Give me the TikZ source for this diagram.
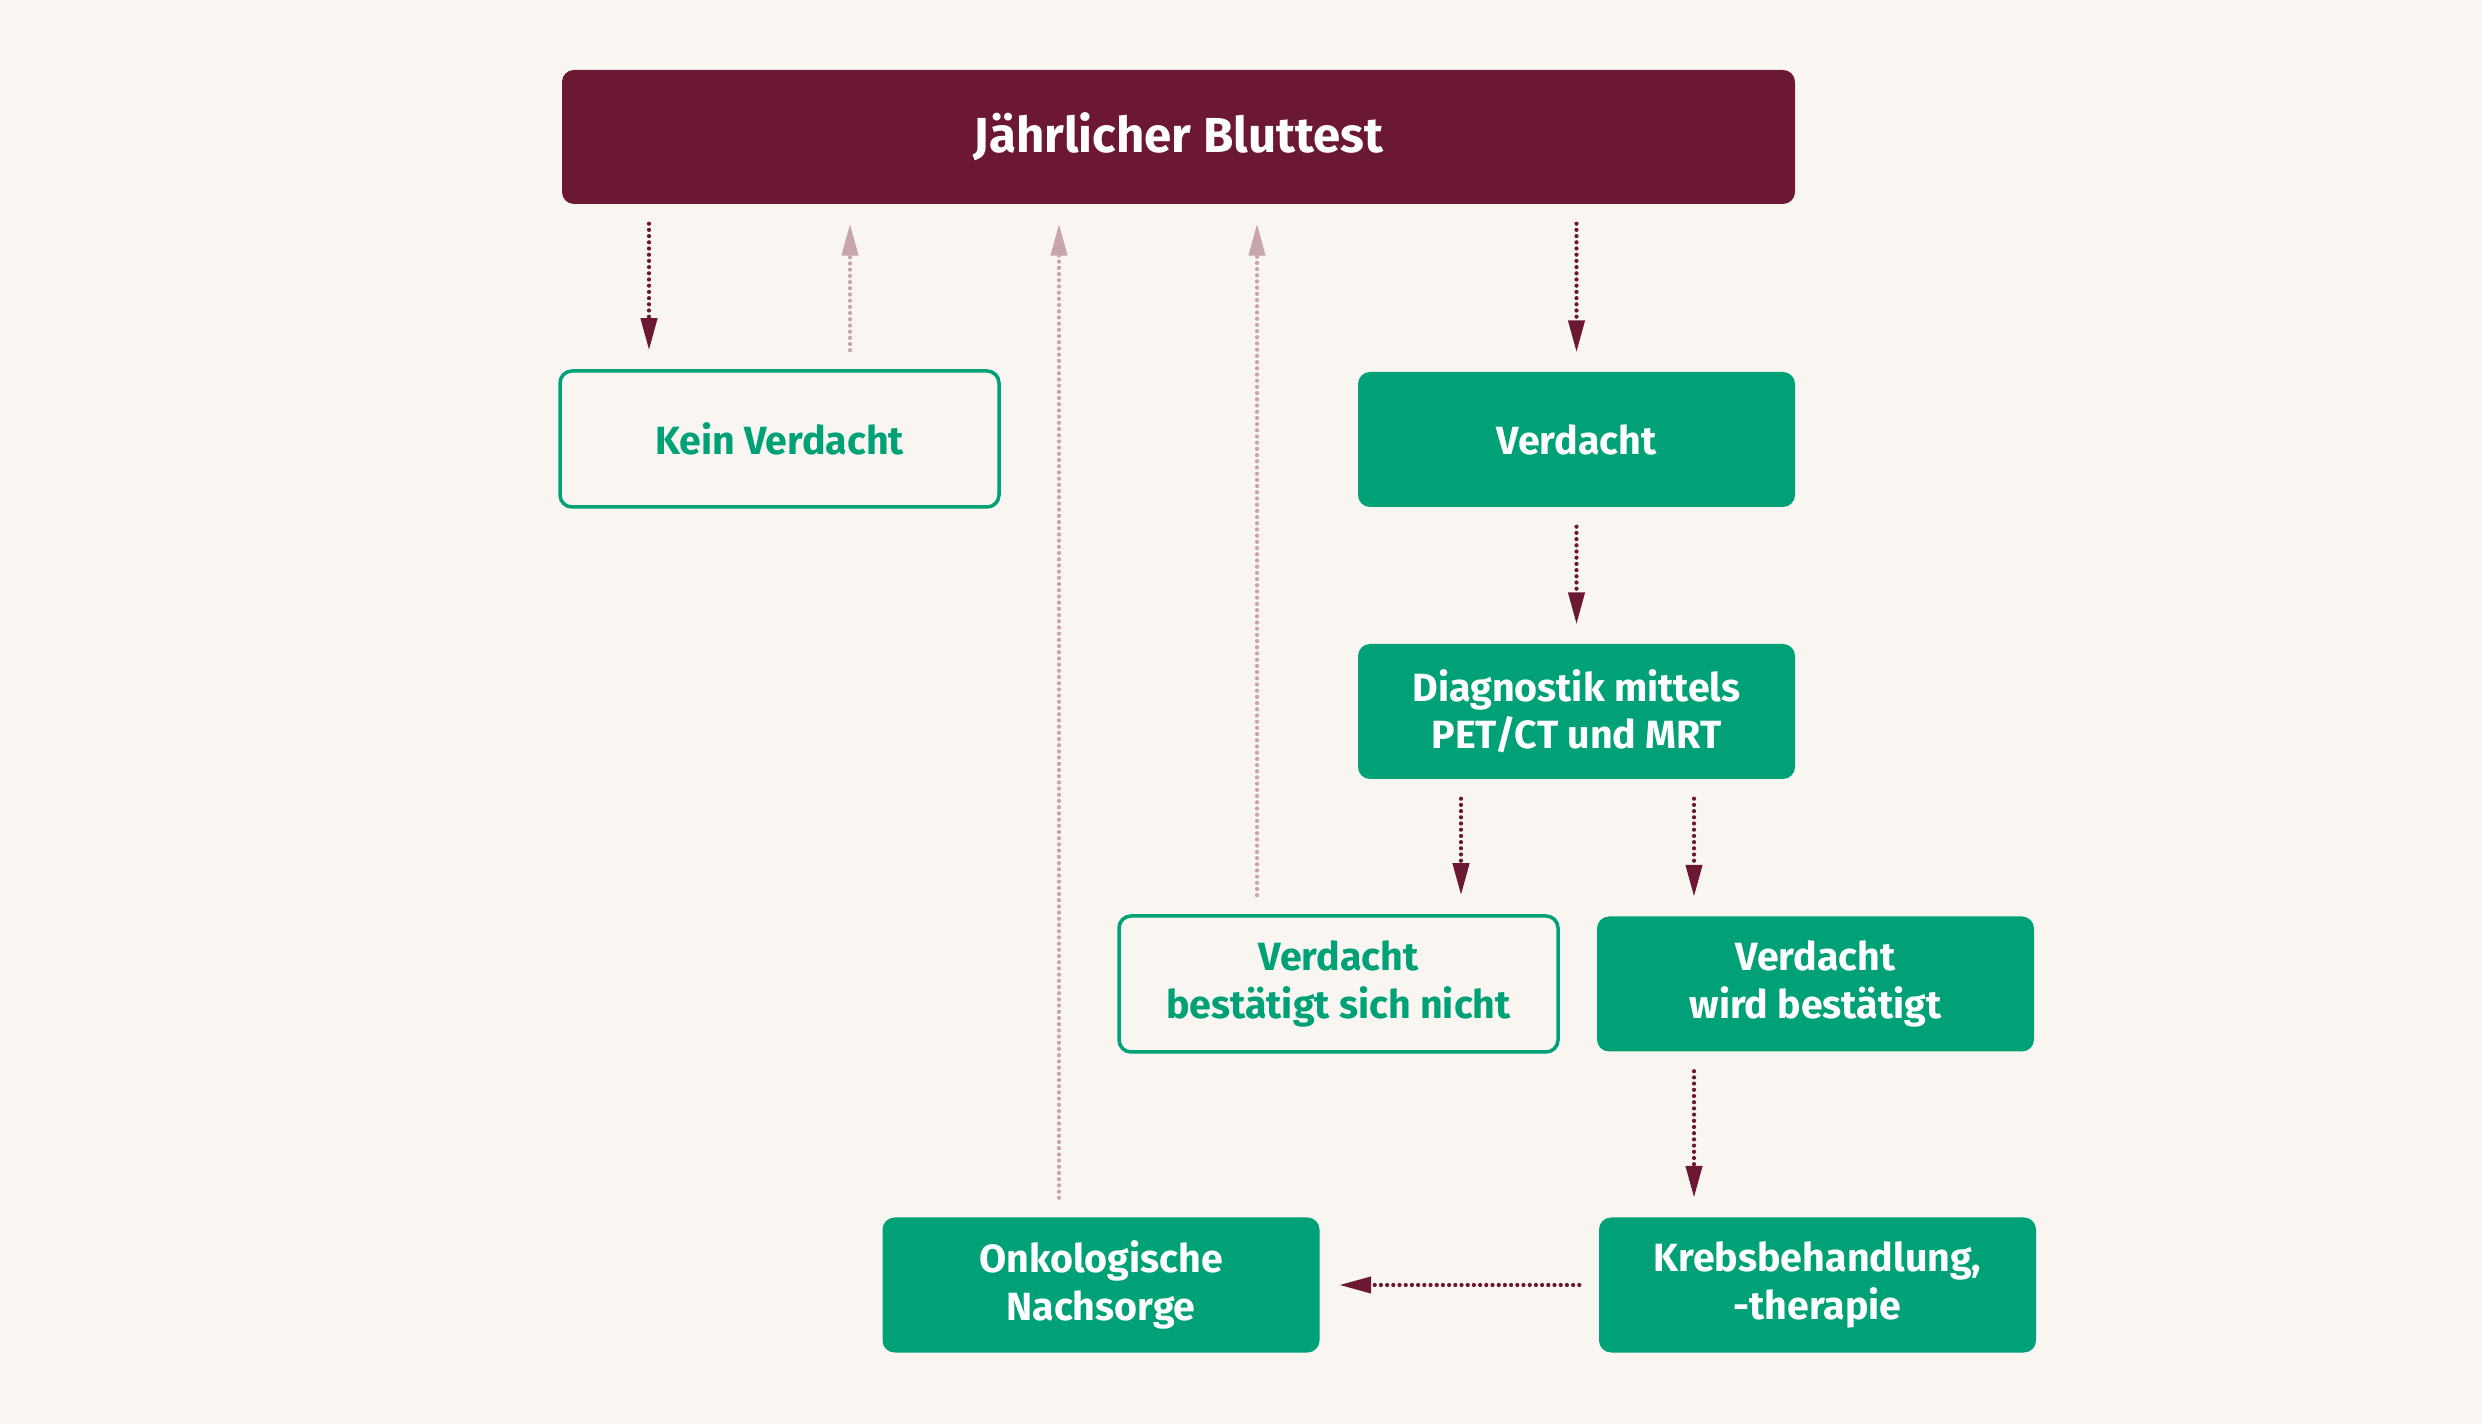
\documentclass[tikz,border=0pt]{standalone}
\usepackage{fontspec}
\setmainfont{Fira Sans}
\usetikzlibrary{arrows.meta}
\definecolor{wine}{HTML}{6C1832}
\definecolor{grn}{HTML}{00A176}
\definecolor{paper}{HTML}{F9F6F1}
\definecolor{pale}{HTML}{C7A5AA}
\begin{document}
\begin{tikzpicture}[
  box/.style={rounded corners=0.12cm, fill=grn, text=white, font=\bfseries\fontsize{11.2}{13.5}\selectfont, align=center, minimum width=4.37cm, minimum height=1.35cm, inner sep=0pt},
  hollow/.style={box, fill=paper, draw=grn, line width=0.035cm, text=grn},
  down/.style={wine, line width=0.042cm, line cap=round, dash pattern=on 0pt off 0.062cm, -{Triangle[width=0.16cm,length=0.32cm]}, shorten <=0.19cm, shorten >=0.19cm},
  up/.style={down, pale}]
\fill[paper] (0,0) rectangle (24.82,-14.24);
\node[box, fill=wine, minimum width=12.33cm, minimum height=1.34cm, font=\bfseries\fontsize{14}{16}\selectfont] (1) at (11.785,-1.37) {Jährlicher Bluttest};
\node[hollow, minimum width=4.39cm, minimum height=1.36cm] (2) at (7.795,-4.39) {Kein Verdacht};
\node[box] (3) at (15.765,-4.395) {Verdacht};
\node[box] (4) at (15.765,-7.115) {Diagnostik mittels\\PET/CT und MRT};
\node[hollow, minimum width=4.39cm, minimum height=1.36cm] (5) at (13.385,-9.84) {Verdacht\\bestätigt sich nicht};
\node[box] (6) at (18.155,-9.84) {Verdacht\\wird bestätigt};
\node[box] (7) at (11.01,-12.85) {Onkologische\\Nachsorge};
\node[box] (8) at (18.175,-12.85) {Krebsbehandlung,\\-therapie};

\coordinate (a) at (6.49,0);
\coordinate (b) at (8.50,0);
\coordinate (c) at (10.59,0);
\coordinate (d) at (12.57,0);
\coordinate (e) at (14.61,0);
\coordinate (f) at (16.94,0);

\draw[down] (1.south -| a) -- (2.north -| a);
\draw[up] (2.north -| b) -- (1.south -| b);
\draw[up] (7.north -| c) -- (1.south -| c);
\draw[up] (5.north -| d) -- (1.south -| d);
\draw[down] (1.south -| 3) -- (3.north);
\draw[down] (3) -- (4);
\draw[down] (4.south -| e) -- (5.north -| e);
\draw[down] (4.south -| f) -- (6.north -| f);
\draw[down] (6.south -| f) -- (8.north -| f);
\draw[down] (8.west) -- (7.east);
\end{tikzpicture}
\end{document}
